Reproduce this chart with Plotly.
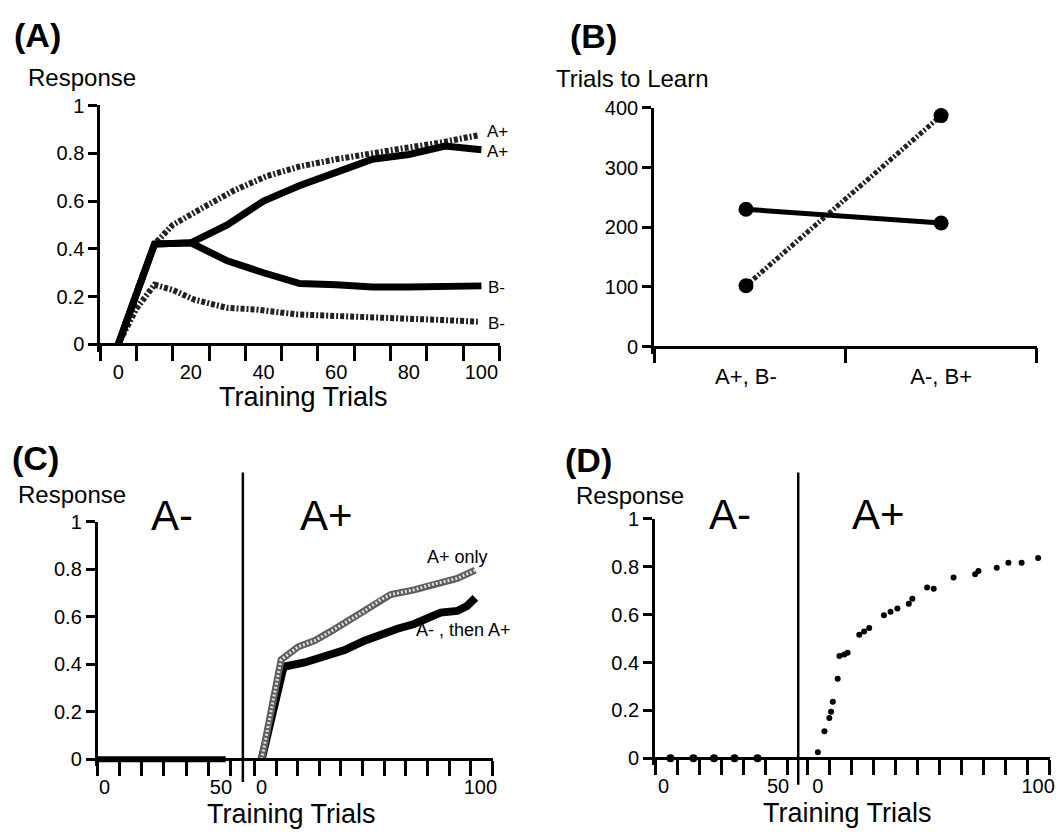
import plotly.graph_objects as go

W, H = 1063, 835
FONT = "Arial, 'Liberation Sans', Helvetica, sans-serif"


def fx(p):
    return p / W


def fy(p):
    return 1 - p / H


# ---------------- data ----------------
# Panel A
a_solid_x = [0, 10, 20, 30, 40, 50, 60, 70, 80, 90, 100]
a_solid_aplus = [0, 0.42, 0.425, 0.50, 0.60, 0.665, 0.72, 0.775, 0.795, 0.83, 0.815]
a_solid_bminus = [0, 0.42, 0.425, 0.35, 0.30, 0.255, 0.25, 0.24, 0.24, 0.24, 0.245]
a_dot_aplus_x = [0, 5, 10, 15, 23, 32, 41, 50, 60, 69, 78, 88, 99]
a_dot_aplus = [0, 0.22, 0.42, 0.50, 0.57, 0.645, 0.705, 0.745, 0.775, 0.80, 0.82, 0.843, 0.875]
a_dot_bminus_x = [0, 5, 10, 15, 21, 30, 38, 49, 60, 69, 78, 88, 99]
a_dot_bminus = [0, 0.15, 0.25, 0.228, 0.187, 0.153, 0.146, 0.126, 0.119, 0.112, 0.105, 0.103, 0.095]
a_xticks = [0, 20, 40, 60, 80, 100]
a_xminor = [-5, 5, 15, 25, 35, 45, 55, 65, 75, 85, 95, 105]
resp_ticks = [0, 0.2, 0.4, 0.6, 0.8, 1]
resp_ticktext = ["0", "0.2", "0.4", "0.6", "0.8", "1"]

# Panel B
b_conditions = ["A+, B-", "A-, B+"]
b_pos = [0, 1]
b_solid = [230, 207]
b_dotted = [102, 387]
b_yticks = [0, 100, 200, 300, 400]
b_xminor = [-0.47, 0.51, 1.49]

# Panel C
c_aminus_x = [-3, 52]
c_aminus_y = [0, 0]
c_then_x = [0, 10, 19.7, 31.8, 37.9, 47, 54.5, 62.1, 69.7, 77.3, 81.8, 89.4, 93.9, 97.7]
c_then_y = [0, 0.39, 0.408, 0.44, 0.46, 0.50, 0.529, 0.55, 0.57, 0.598, 0.618, 0.625, 0.646, 0.68]
c_only_x = [0, 8.9, 16.7, 24.3, 31.8, 39.4, 47, 54.5, 59, 69.7, 77.3, 89.4, 97.7]
c_only_y = [0, 0.42, 0.474, 0.50, 0.54, 0.584, 0.625, 0.673, 0.694, 0.714, 0.735, 0.762, 0.797]
c_left_minor = [-3 + 9.5 * k for k in range(7)]
c_right_minor = [-3.3 + 9.89 * k for k in range(12)]

# Panel D
d_left_x = [3, 13, 22, 31, 41]
d_left_y = [0, 0, 0, 0, 0]
d_right_x = [0, 3, 5.2, 6, 6.8, 9, 9.8, 12, 13.5, 18.8, 21, 23.3, 30, 33, 36.1, 41.3, 42.9,
             49.6, 52.6, 61.6, 71.4, 72.9, 81.2, 86.5, 92.5, 100]
d_right_y = [0.025, 0.113, 0.168, 0.195, 0.236, 0.332, 0.427, 0.434, 0.441, 0.516, 0.53, 0.544,
             0.598, 0.612, 0.626, 0.646, 0.667, 0.714, 0.708, 0.755, 0.769, 0.783, 0.796, 0.817,
             0.817, 0.837]
d_left_minor = [-3.7 + 9.6 * k for k in range(7)]
d_right_minor = [-4.5 + 9.98 * k for k in range(12)]

# ---------------- figure ----------------
fig = go.Figure()

DOTDASH = "4px,2px,2px,2px"

# Panel A traces
fig.add_trace(go.Scatter(x=a_dot_aplus_x, y=a_dot_aplus, mode="lines", xaxis="x", yaxis="y",
                         line=dict(color="#222", width=6, dash=DOTDASH)))
fig.add_trace(go.Scatter(x=a_dot_bminus_x, y=a_dot_bminus, mode="lines", xaxis="x", yaxis="y",
                         line=dict(color="#222", width=6, dash=DOTDASH)))
fig.add_trace(go.Scatter(x=a_solid_x, y=a_solid_bminus, mode="lines", xaxis="x", yaxis="y",
                         line=dict(color="black", width=7)))
fig.add_trace(go.Scatter(x=a_solid_x, y=a_solid_aplus, mode="lines", xaxis="x", yaxis="y",
                         line=dict(color="black", width=7)))

# Panel B traces
fig.add_trace(go.Scatter(x=b_pos, y=b_dotted, mode="lines+markers", xaxis="x2", yaxis="y2",
                         line=dict(color="#222", width=5, dash=DOTDASH),
                         marker=dict(color="black", size=15)))
fig.add_trace(go.Scatter(x=b_pos, y=b_solid, mode="lines+markers", xaxis="x2", yaxis="y2",
                         line=dict(color="black", width=5),
                         marker=dict(color="black", size=15)))

# Panel C traces
fig.add_trace(go.Scatter(x=c_aminus_x, y=c_aminus_y, mode="lines", xaxis="x3", yaxis="y3",
                         line=dict(color="black", width=6)))
fig.add_trace(go.Scatter(x=c_then_x, y=c_then_y, mode="lines", xaxis="x4", yaxis="y3",
                         line=dict(color="black", width=8)))
fig.add_trace(go.Scatter(x=c_only_x, y=c_only_y, mode="lines", xaxis="x4", yaxis="y3",
                         line=dict(color="#5e5e5e", width=7)))
fig.add_trace(go.Scatter(x=c_only_x, y=c_only_y, mode="lines", xaxis="x4", yaxis="y3",
                         line=dict(color="#e0e0e0", width=3, dash="2px,2px")))

# Panel D traces
fig.add_trace(go.Scatter(x=d_left_x, y=d_left_y, mode="markers", xaxis="x5", yaxis="y4",
                         marker=dict(color="black", size=8)))
fig.add_trace(go.Scatter(x=d_right_x, y=d_right_y, mode="markers", xaxis="x6", yaxis="y4",
                         marker=dict(color="black", size=6)))


def yax(domain, rng, tickvals, ticktext, anchor):
    return dict(domain=domain, range=rng, anchor=anchor, tickmode="array",
                tickvals=tickvals, ticktext=ticktext, showline=True, linecolor="black",
                linewidth=2.5, showgrid=False, zeroline=False, ticks="outside", ticklen=9,
                tickwidth=2.5, tickcolor="black",
                tickfont=dict(family=FONT, size=20, color="black"), fixedrange=True)


def xax(domain, rng, position, tickvals, ticktext, minorvals, size=20):
    return dict(domain=domain, range=rng, anchor="free", position=position,
                tickmode="array", tickvals=tickvals, ticktext=ticktext,
                showline=True, linecolor="black", linewidth=2.5, showgrid=False,
                zeroline=False, ticks="outside", ticklen=9, tickwidth=1,
                tickcolor="rgba(0,0,0,0)",
                tickfont=dict(family=FONT, size=size, color="black"),
                minor=dict(tickmode="array", tickvals=minorvals, ticks="outside",
                           ticklen=15, tickwidth=2.5, tickcolor="black", showgrid=False),
                fixedrange=True)


fig.update_layout(
    width=W, height=H, margin=dict(l=0, r=0, t=0, b=0),
    paper_bgcolor="white", plot_bgcolor="rgba(0,0,0,0)", showlegend=False,
    font=dict(family=FONT, color="black"),
    xaxis=xax([fx(100.5), fx(502)], [-5.01, 105.01], fy(339.5), a_xticks,
              [str(v) for v in a_xticks], a_xminor),
    yaxis=yax([fy(346.8), fy(96)], [-0.03, 1.001], resp_ticks, resp_ticktext, "x"),
    xaxis2=xax([fx(657), fx(1042)], [-0.472, 1.492], fy(341.7), b_pos, b_conditions,
               b_xminor, size=22),
    yaxis2=yax([fy(349), fy(98.3)], [-12, 400.5], b_yticks, [str(v) for v in b_yticks], "x2"),
    xaxis3=xax([fx(98), fx(244)], [-3.01, 59.4], fy(762), [0, 50], ["0", "50"], c_left_minor),
    xaxis4=xax([fx(244), fx(495)], [-8.6, 105.6], fy(762), [0, 100], ["0", "100"],
               c_right_minor),
    yaxis3=yax([fy(769.3), fy(520)], [-0.03, 1.001], resp_ticks, resp_ticktext, "x3"),
    xaxis5=xax([fx(658), fx(802)], [-3.8, 58.8], fy(761), [0, 50], ["0", "50"], d_left_minor),
    xaxis6=xax([fx(802), fx(1055)], [-8.9, 105.4], fy(761), [0, 100], ["0", "100"],
               d_right_minor),
    yaxis4=yax([fy(768.3), fy(517)], [-0.03, 1.001], resp_ticks, resp_ticktext, "x5"),
)

# dividers between A- and A+ phases
for xp, y0, y1 in [(244, 470, 785), (802, 470, 788)]:
    fig.add_shape(type="line", xref="paper", yref="paper", x0=fx(xp), x1=fx(xp),
                  y0=fy(y0), y1=fy(y1), line=dict(color="black", width=2.5))


def ann(text, x, y, size, xanchor="left", bold=False):
    fig.add_annotation(text=f"<b>{text}</b>" if bold else text, xref="paper", yref="paper",
                       x=fx(x), y=fy(y), xanchor=xanchor, yanchor="middle", showarrow=False,
                       font=dict(family=FONT, size=size, color="black"))


ann("(A)", 12, 24, 34, bold=True)
ann("(B)", 571, 25, 34, bold=True)
ann("(C)", 10, 455, 34, bold=True)
ann("(D)", 566, 457, 34, bold=True)

ann("Response", 26, 68, 24)
ann("Trials to Learn", 557, 69, 24)
ann("Response", 16, 492, 24)
ann("Response", 577, 493, 24)

ann("Training Trials", 305, 393, 27, xanchor="center")
ann("Training Trials", 293, 818, 27, xanchor="center")
ann("Training Trials", 852, 817, 27, xanchor="center")

ann("A-", 173, 514, 42, xanchor="center")
ann("A+", 328, 514, 42, xanchor="center")
ann("A-", 733, 513, 42, xanchor="center")
ann("A+", 883, 513, 42, xanchor="center")

ann("A+", 487, 123, 17)
ann("A+", 487, 143, 17)
ann("B-", 488, 282, 17)
ann("B-", 488, 318, 17)

ann("A+ only", 427, 556, 18)
ann("A- , then A+", 416, 630, 18)

fig.write_html("out.html",
               config={"displayModeBar": False},
               post_script="document.body.style.margin='0';"
                           "document.body.style.overflow='hidden';")
